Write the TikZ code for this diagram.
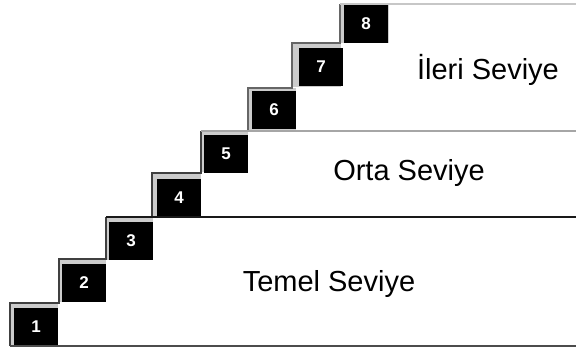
\documentclass[tikz,border=0pt]{standalone}
\usepackage{fontspec}
\setmainfont{Liberation Sans}
\begin{document}
\begin{tikzpicture}[x=1pt,y=-1pt,
  numbox/.style={fill=black,text=white,minimum width=44pt,minimum height=38pt,inner sep=0pt,
    font=\fontsize{17}{19}\selectfont\bfseries},
  levellabel/.style={font=\fontsize{29}{34}\selectfont,inner sep=0pt},
  stepline/.style={draw=black!75,line width=1.5pt},
  band/.style={fill=black!20}]
\useasboundingbox (0,0) rectangle (576,350);
% gray bands (step shadows)
\fill[band] (10,303) rectangle (58,346);
\fill[band] (59,259) rectangle (106,302);
\fill[band] (106,217) rectangle (153,260);
\fill[band] (152,173) rectangle (201,217);
\fill[band] (201,131) rectangle (248,172);
\fill[band] (248,88) rectangle (296,130);
\fill[band] (292,43) rectangle (341,87);
\fill[band] (340,4) rectangle (389,43);
% numbered boxes
\node[numbox] (b1) at (36,327) {1};
\node[numbox] (b2) at (84,283) {2};
\node[numbox] (b3) at (131,241) {3};
\node[numbox] (b4) at (179,198) {4};
\node[numbox] (b5) at (226,154) {5};
\node[numbox] (b6) at (274,110) {6};
\node[numbox] (b7) at (321,67) {7};
\node[numbox] (b8) at (366,24) {8};
% step outlines
\draw[stepline] (10,346) -- (10,303) -- (59,303) -- (59,259) -- (106,259) -- (106,217);
\draw[stepline] (152,217) -- (152,173) -- (201,173) -- (201,131);
\draw[stepline,draw=black!60] (248,131) -- (248,88) -- (292,88) -- (292,43) -- (340,43) -- (340,4);
% level lines
\draw[line width=1.5pt,draw=black!70] (10,346) -- (576,346);
\draw[line width=1.5pt,draw=black!90] (106,217) -- (576,217);
\draw[line width=1.5pt,draw=black!35] (201,131) -- (576,131);
\draw[line width=1.5pt,draw=black!22] (340,4) -- (576,4);
% labels
\node[levellabel] (l1) at (329,284) {Temel Seviye};
\node[levellabel] (l2) at (409,173) {Orta Seviye};
\node[levellabel] (l3) at (488,70) {İleri Seviye};
\end{tikzpicture}
\end{document}
